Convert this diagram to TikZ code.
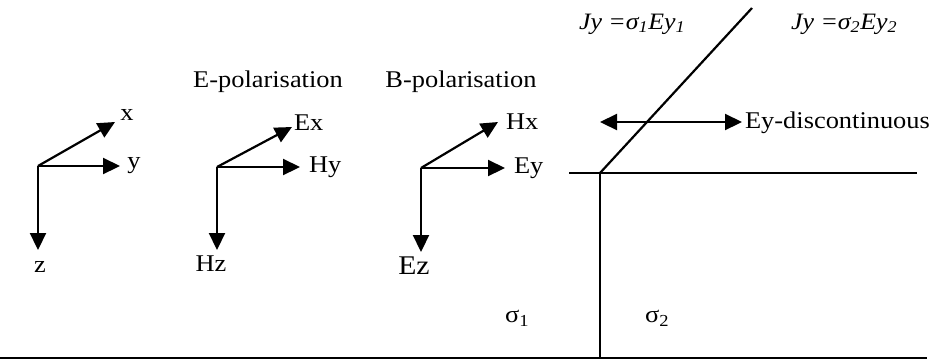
\documentclass[tikz,border=0pt]{standalone}
\usepackage{fontspec}
\setmainfont{Liberation Serif}[FakeStretch=1.1]
\usetikzlibrary{arrows.meta}
\begin{document}
\begin{tikzpicture}[x=1pt,y=-1pt,line width=2.2pt,>={Triangle[length=17pt,width=16pt]},
 line join=miter,font=\fontsize{24}{27}\selectfont,
 lbl/.style={inner sep=0pt}]
 \useasboundingbox (0,0) rectangle (940,360);
 % three axis crosses: name/origin/x tip/y tip/z tip
 \foreach \n/\o/\tx/\ty/\tz in {c/{38,166}/{115,122}/{120,166}/{38,250},
   e/{217,167}/{292,127}/{300,167}/{217,250},
   b/{421,168}/{498,122}/{505,168}/{421,252}}{
  \coordinate (\n o) at (\o);
  \coordinate (\n x) at (\tx);
  \coordinate (\n y) at (\ty);
  \coordinate (\n z) at (\tz);
  \draw[->] (\n o)--(\n x);
  \draw[->] (\n o)--(\n y);
  \draw[->] (\n o)--(\n z);
 }
 \node[lbl] (lx) at (127,115) {x};
 \node[lbl] (ly) at (134,166) {y};
 \node[lbl] (lz) at (40,267) {z};
 \node[lbl] (etitle) at (268,82) {E-polarisation};
 \node[lbl,anchor=west] (lex) at (293,123) {Ex};
 \node[lbl,anchor=west] (lhy) at (308,167) {Hy};
 \node[lbl] (lhz) at (211,264) {Hz};
 \node[lbl] (btitle) at (461,82) {B-polarisation};
 \node[lbl,anchor=west] (lhx) at (505,122) {Hx};
 \node[lbl,anchor=west] (ley) at (513,168) {Ey};
 \node[lbl,font=\fontsize{27}{30}\selectfont] (lez) at (414,266) {Ez};
 % interface
 \coordinate (corner) at (600,173);
 \coordinate (hend) at (569,173);
 \coordinate (hright) at (917,173);
 \coordinate (diag) at (752,8);
 \coordinate (vbot) at (600,358);
 \coordinate (bl) at (0,358);
 \coordinate (br) at (927,358);
 \draw (hend)--(hright);
 \draw (corner)--(diag);
 \draw (corner)--(vbot);
 \draw (bl)--(br);
 \coordinate (dl) at (600,122);
 \coordinate (dr) at (742,122);
 \draw[<->] (dl)--(dr);
 \node[lbl,anchor=west] (disc) at (744,123) {Ey-discontinuous};
 \node[lbl,anchor=west,font=\fontsize{23.5}{26}\selectfont\itshape] (j1) at (578,24)
  {Jy =σ\textsubscript{1}Ey\textsubscript{1}};
 \node[lbl,anchor=west,font=\fontsize{23.5}{26}\selectfont\itshape] (j2) at (790,24)
  {Jy =σ\textsubscript{2}Ey\textsubscript{2}};
 \node[lbl] (s1) at (517,318) {σ\textsubscript{1}};
 \node[lbl] (s2) at (657,318) {σ\textsubscript{2}};
\end{tikzpicture}
\end{document}
